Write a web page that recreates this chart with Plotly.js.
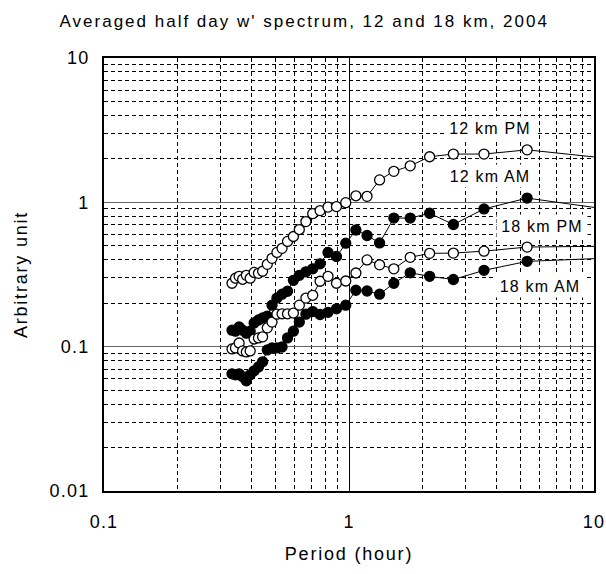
<!DOCTYPE html>
<html>
<head>
<meta charset="utf-8">
<script src="https://cdn.plot.ly/plotly-3.0.1.min.js"></script>
<style>
html,body{margin:0;padding:0;background:#fff;}
#chart{width:606px;height:574px;}
#chart .gtitle{letter-spacing:2px;}
#chart .xtitle,#chart .ytitle{letter-spacing:1.8px;}
#chart .xtick text,#chart .ytick text{letter-spacing:1.2px;}
#chart .annotation-text{letter-spacing:1.2px;}
</style>
</head>
<body>
<div id="chart"></div>
<script>
// Period (hour)
var periods = [0.333,0.344,0.356,0.368,0.381,0.395,0.410,0.427,0.444,0.464,0.485,0.508,0.533,0.561,0.593,0.627,0.667,0.711,0.762,0.821,0.889,0.970,1.067,1.185,1.333,1.524,1.778,2.133,2.667,3.556,5.333,10.667];
var pm12 = [0.275,0.298,0.307,0.293,0.312,0.298,0.327,0.322,0.333,0.372,0.409,0.45,0.48,0.536,0.58,0.648,0.736,0.835,0.877,0.927,0.934,0.995,1.11,1.10,1.43,1.64,1.79,2.07,2.16,2.16,2.31,2.04];
var am12 = [0.130,0.128,0.137,0.130,0.124,0.128,0.146,0.153,0.158,0.163,0.194,0.217,0.231,0.242,0.288,0.312,0.330,0.346,0.375,0.450,0.422,0.521,0.643,0.589,0.523,0.778,0.778,0.84,0.702,0.90,1.07,0.908];
var pm18 = [0.0964,0.098,0.106,0.0934,0.0919,0.0934,0.113,0.115,0.117,0.135,0.148,0.168,0.169,0.169,0.171,0.194,0.217,0.227,0.284,0.307,0.275,0.285,0.324,0.399,0.369,0.346,0.416,0.443,0.445,0.459,0.49,0.496];
var am18 = [0.0648,0.0638,0.0648,0.0618,0.058,0.0638,0.068,0.0724,0.0785,0.095,0.098,0.098,0.0995,0.115,0.128,0.148,0.168,0.175,0.167,0.173,0.183,0.194,0.246,0.243,0.231,0.275,0.325,0.307,0.292,0.338,0.39,0.409];
var seriesNames = ["12 km PM","12 km AM","18 km PM","18 km AM"];

function mk(y, name, open){
  return {
    x: periods, y: y, name: name, type: 'scatter', mode: 'lines+markers',
    line: {color: 'black', width: 1},
    marker: {symbol: 'circle', size: 10, color: open ? 'white' : 'black',
             line: {color: 'black', width: 1.3}},
    showlegend: false
  };
}
var data = [mk(pm12, seriesNames[0], true), mk(am12, seriesNames[1], false),
            mk(pm18, seriesNames[2], true), mk(am18, seriesNames[3], false)];

var fontFam = 'Liberation Sans, Arial, Helvetica, sans-serif';
var minorCfg = {dtick: 'D1', showgrid: true, gridcolor: 'black', griddash: '4px,3px', gridwidth: 1, ticks: ''};
function lab(i, x, y){
  return {text: seriesNames[i], xref: 'paper', yref: 'paper', x: x, y: y, xanchor: 'center', yanchor: 'middle',
          width: 88, height: 20, align: 'center',
          showarrow: false, font: {family: fontFam, size: 16, color: 'black'}, bgcolor: 'white'};
}
var layout = {
  width: 606, height: 574,
  margin: {l: 104, r: 12, t: 58, b: 83},
  paper_bgcolor: 'white', plot_bgcolor: 'white',
  font: {family: fontFam, color: 'black', size: 16},
  title: {text: "Averaged half day w' spectrum, 12 and 18 km, 2004", x: 0.502, xanchor: 'center', y: 0.964, yanchor: 'middle',
          font: {family: fontFam, size: 17, color: 'black'}},
  xaxis: {
    type: 'log', range: [-1, 1], dtick: 1,
    showline: true, mirror: true, linecolor: 'black', linewidth: 2,
    showgrid: true, gridcolor: 'black', gridwidth: 1,
    ticks: 'outside', ticklen: 13, tickcolor: 'rgba(0,0,0,0)',
    tickfont: {family: fontFam, size: 18},
    minor: minorCfg, zeroline: false,
    title: {text: 'Period (hour)', standoff: 17, font: {family: fontFam, size: 18}}
  },
  yaxis: {
    type: 'log', range: [-2, 1], dtick: 1,
    showline: true, mirror: true, linecolor: 'black', linewidth: 2,
    showgrid: true, gridcolor: '#666', gridwidth: 1,
    ticks: 'outside', ticklen: 9, tickcolor: 'rgba(0,0,0,0)',
    tickfont: {family: fontFam, size: 18},
    minor: minorCfg, zeroline: false,
    title: {text: 'Arbitrary unit', standoff: 22, font: {family: fontFam, size: 18}}
  },
  annotations: [
    lab(0, 0.788, 0.838),
    lab(1, 0.788, 0.7275),
    lab(2, 0.894, 0.612),
    lab(3, 0.890, 0.473)
  ]
};
Plotly.newPlot('chart', data, layout, {displayModeBar: false, staticPlot: true});
</script>
</body>
</html>
